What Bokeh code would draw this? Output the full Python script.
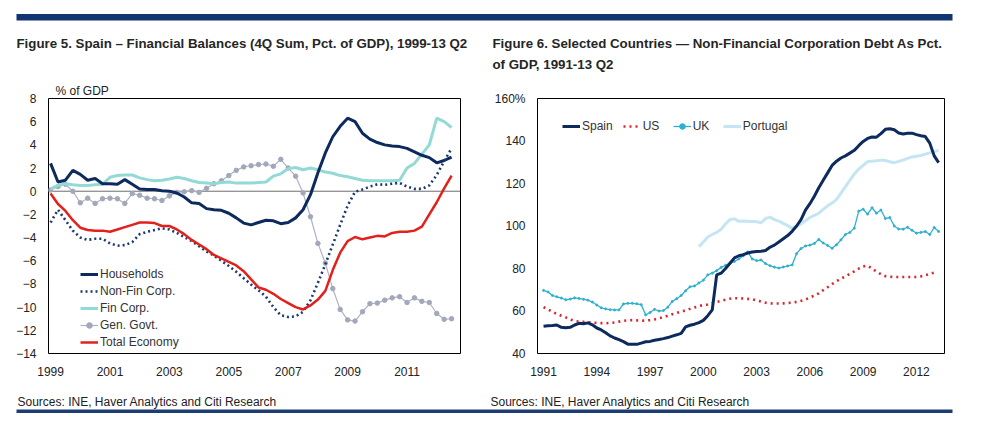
from bokeh.plotting import figure
from bokeh.models import Label, BoxAnnotation, Span, Legend, LegendItem, FixedTicker, Title, Range1d
from bokeh.layouts import row, column
from bokeh.embed import file_html
from bokeh.resources import INLINE

# ---------------- data: Figure 5 (quarterly, 1999 Q1 onwards) ----------------
quarters5 = [1999 + i * 0.25 for i in range(55)]
households = [2.4, 0.8, 0.95, 1.8, 1.45, 0.95, 1.1, 0.65, 0.65, 0.6,
              1.0, 0.6, 0.2, 0.15, 0.15, 0.05, 0.0, -0.15, -0.5, -1.0,
              -1.05, -1.5, -1.6, -1.65, -1.9, -2.3, -2.75, -2.9, -2.7, -2.5,
              -2.55, -2.8, -2.7, -2.3, -1.6, -0.3, 1.6, 3.3, 4.7, 5.6,
              6.3, 6.0, 5.0, 4.5, 4.2, 4.0, 3.9, 3.85, 3.7, 3.4,
              3.1, 2.9, 2.45, 2.65, 2.95]
nonfin_corp = [-2.7, -1.6, -2.5, -3.4, -4.0, -4.2, -4.1, -4.1, -4.5, -4.7,
               -4.65, -4.4, -3.7, -3.5, -3.35, -3.2, -3.3, -3.6, -3.95, -4.3,
               -4.75, -5.2, -5.55, -6.0, -6.45, -6.95, -7.5, -8.05, -8.55, -9.1,
               -10.0, -10.7, -10.85, -10.8, -10.4, -9.4, -7.9, -6.3, -4.6, -2.9,
               -1.25, -0.05, 0.15, 0.4, 0.6, 0.55, 0.65, 0.72, 0.4, 0.2,
               0.2, 0.5, 1.4, 2.6, 3.7]
fin_corp = [0.2, 0.5, 0.65, 0.55, 0.5, 0.5, 0.55, 0.6, 1.2, 1.35,
            1.4, 1.4, 1.15, 1.0, 0.9, 0.95, 1.05, 1.2, 1.1, 0.9,
            0.75, 0.7, 0.65, 0.75, 0.8, 0.7, 0.7, 0.7, 0.75, 0.8,
            1.3, 1.5, 1.95, 2.05, 1.85, 2.0, 1.85, 1.65, 1.55, 1.35,
            1.25, 1.1, 0.95, 0.9, 0.9, 0.9, 0.9, 0.95, 2.0, 2.4,
            3.2, 4.0, 6.3, 6.0, 5.5]
gen_govt = [0.1, 0.4, 0.6, 0.0, -1.0, -0.6, -1.05, -0.65, -0.6, -0.65,
            -1.05, -0.2, -0.35, -0.6, -0.65, -0.8, -0.4, -0.1, -0.05, 0.05,
            -0.1, 0.25, 0.65, 0.9, 1.35, 1.8, 2.1, 2.2, 2.3, 2.35,
            2.15, 2.75, 2.0, 1.3, -0.15, -2.2, -4.5, -6.2, -8.4, -10.2,
            -11.1, -11.2, -10.4, -9.7, -9.65, -9.4, -9.2, -9.1, -9.6, -9.2,
            -9.5, -9.6, -10.55, -11.05, -11.0]
total_economy = [-0.2, -1.1, -1.7, -2.5, -3.15, -3.35, -3.4, -3.4, -3.5, -3.3,
                 -3.1, -2.9, -2.7, -2.7, -2.75, -3.0, -3.0, -3.3, -3.7, -4.2,
                 -4.6, -5.0, -5.5, -5.8, -6.1, -6.4, -6.9, -7.6, -8.3, -8.5,
                 -8.85, -9.3, -9.65, -10.0, -10.2, -9.85, -9.35, -8.6, -6.8, -5.3,
                 -4.3, -3.95, -4.15, -4.0, -3.85, -3.9, -3.6, -3.5, -3.5, -3.4,
                 -3.05, -2.0, -0.95, 0.25, 1.35]
x_ticks5 = [1999, 2001, 2003, 2005, 2007, 2009, 2011]
y_ticks5 = [-14, -12, -10, -8, -6, -4, -2, 0, 2, 4, 6, 8]

# ---------------- data: Figure 6 (quarterly, 1991 Q1 onwards) ----------------
quarters6 = [1991 + j * 0.25 for j in range(90)]
spain = [52.8, 53.1, 53.2, 53.4, 52.3, 52.1, 52.3, 53.4, 54.2, 54.0,
         54.4, 53.5, 52.0, 51.1, 49.8, 48.3, 47.3, 46.5, 45.6, 44.4,
         44.3, 44.3, 44.9, 45.5, 45.7, 46.2, 46.6, 47.0, 47.5, 48.2,
         48.8, 49.5, 52.5, 53.3, 53.8, 54.5, 55.6, 57.8, 60.5, 77.0,
         77.8, 80.0, 82.5, 85.0, 86.0, 86.5, 87.3, 87.8, 88.0, 88.1,
         88.5, 90.0, 91.0, 92.5, 94.0, 95.5, 97.5, 100.0, 103.0, 107.5,
         110.5, 114.0, 118.0, 121.5, 125.0, 128.5, 130.5, 132.0, 133.0, 134.3,
         135.6, 137.8, 139.8, 141.2, 141.9, 141.8, 143.5, 145.5, 145.8, 145.3,
         143.8, 143.3, 143.6, 143.7, 143.0, 142.5, 142.1, 139.0, 133.0, 129.8]
us = [61.8, 60.8, 59.6, 58.6, 57.8, 57.0, 56.0, 55.3, 55.0, 54.9,
      54.7, 54.6, 54.4, 54.3, 54.2, 54.4, 54.6, 55.0, 55.4, 55.6,
      55.7, 55.6, 55.4, 55.5, 55.7, 56.0, 56.6, 57.1, 57.8, 58.5,
      59.1, 59.7, 60.3, 61.0, 61.7, 62.3, 62.8, 63.1, 63.7, 64.3,
      64.8, 65.3, 65.8, 66.0, 66.0, 65.9, 65.7, 65.5, 65.0, 64.4,
      63.9, 63.6, 63.5, 63.5, 63.6, 63.8, 63.9, 64.3, 64.8, 65.4,
      66.3, 67.3, 68.3, 69.8, 71.2, 72.7, 74.0, 75.2, 76.3, 77.5,
      78.7, 79.9, 81.0, 81.3, 80.0, 78.5, 77.3, 76.4, 76.1, 76.0,
      76.0, 76.0, 76.0, 76.0, 76.0, 76.3, 76.8, 77.4, 78.1]
uk = [69.7, 69.0, 67.3, 66.7, 66.1, 65.3, 65.6, 66.2, 65.9, 65.5,
      65.1, 64.2, 62.8, 61.5, 61.0, 60.6, 60.5, 60.5, 63.3, 63.6,
      63.6, 63.4, 63.0, 58.2, 59.3, 60.8, 60.0, 60.2, 61.8, 64.5,
      65.8, 67.3, 69.5, 71.4, 71.8, 73.2, 74.5, 77.0, 77.8, 79.0,
      80.5, 81.5, 82.5, 83.3, 84.5, 86.0, 87.8, 84.5, 83.7, 84.0,
      82.3, 81.3, 80.6, 80.2, 80.7, 81.2, 81.7, 87.0, 89.4, 90.6,
      91.0, 91.8, 93.7, 92.0, 90.8, 89.5, 91.2, 93.5, 96.0, 97.0,
      99.0, 107.0, 107.9, 105.6, 108.6, 106.0, 107.5, 103.5, 104.0, 100.0,
      98.6, 98.5, 99.4, 98.0, 96.6, 97.0, 97.4, 96.0, 99.3, 97.4]
portugal_start = 35  # first quarter with data (1999 Q4)
portugal = [90.3, 92.5, 94.8, 96.0, 97.0, 98.5, 101.0, 103.0, 103.4, 102.2,
            102.3, 102.2, 102.1, 102.0, 101.5, 103.5, 104.2, 103.0, 102.3, 101.2,
            100.2, 99.0, 99.8, 101.0, 102.5, 104.0, 105.0, 106.0, 107.8, 109.5,
            110.8, 112.5, 115.5, 118.5, 121.5, 124.5, 126.8, 128.5, 130.3, 130.5,
            130.7, 131.0, 130.8, 130.2, 129.8, 130.4, 131.0, 131.8, 132.5, 132.8,
            133.2, 133.8, 134.4, 135.0, 135.6]
x_ticks6 = [1991, 1994, 1997, 2000, 2003, 2006, 2009, 2012]
y_ticks6 = [40, 60, 80, 100, 120, 140, 160]

title5 = "Figure 5. Spain \u2013 Financial Balances (4Q Sum, Pct. of GDP), 1999-13 Q2"
title6a = "Figure 6. Selected Countries \u2014 Non-Financial Corporation Debt As Pct."
title6b = "of GDP, 1991-13 Q2"
source_text = "Sources: INE, Haver Analytics and Citi Research"

# ---------------- styling ----------------
FONT = "Liberation Sans"
NAVY = "#0d2a5e"
BAR = "#123572"
W = 992
HEAD_H = 76
FOOT_H = 42
MAIN_H = 428 - HEAD_H - FOOT_H


def style(p, xticks, yticks):
    p.outline_line_color = "#000000"
    p.outline_line_width = 1
    p.outline_line_alpha = 1
    p.xgrid.visible = False
    p.ygrid.visible = False
    p.background_fill_color = "white"
    p.border_fill_color = "white"
    for ax in (p.xaxis[0], p.yaxis[0]):
        ax.axis_line_color = None
        ax.major_tick_line_color = None
        ax.minor_tick_line_color = None
        ax.major_tick_out = 0
        ax.major_tick_in = 0
        ax.major_label_text_font = FONT
        ax.major_label_text_font_size = "12px"
        ax.major_label_text_color = "#222222"
    p.xaxis[0].ticker = FixedTicker(ticks=xticks)
    p.yaxis[0].ticker = FixedTicker(ticks=yticks)
    p.xaxis[0].major_label_standoff = 13
    p.yaxis[0].major_label_standoff = 12


def strip(height, top):
    # a blank strip whose data coordinates are page pixels (x right, y down from page top)
    s = figure(width=W, height=height, x_range=Range1d(0, W), y_range=Range1d(top + height, top),
               x_axis_type=None, y_axis_type=None, output_backend="svg", toolbar_location=None,
               min_border=0, min_border_left=0, min_border_right=0, min_border_top=0, min_border_bottom=0)
    s.outline_line_color = None
    s.xgrid.visible = False
    s.ygrid.visible = False
    s.background_fill_color = "white"
    s.border_fill_color = "white"
    return s


def text(s, x, y, t, size="12px", style_="normal", color="#222222"):
    s.add_layout(Label(x=x, y=y, text=t, text_font=FONT, text_font_size=size,
                       text_font_style=style_, text_color=color,
                       text_baseline="alphabetic", text_align="left"))


def bar(s, x0, x1, y0, y1, color):
    s.add_layout(BoxAnnotation(left=x0, right=x1, top=y0, bottom=y1, fill_color=color,
                               fill_alpha=1, line_color=None))


# ---------------- header & footer strips ----------------
head = strip(HEAD_H, 0)
bar(head, 16, 952, 13.5, 20, BAR)
text(head, 16, 43, title5, size="13.3px", style_="bold", color="#262626")
text(head, 492, 43, title6a, size="13.3px", style_="bold", color="#262626")
text(head, 492, 64, title6b, size="13.3px", style_="bold", color="#262626")

foot = strip(FOOT_H, 428 - FOOT_H)
text(foot, 17, 401, source_text)
text(foot, 490, 401, source_text)
bar(foot, 16, 952, 409, 412.5, "#1d3d72")

# ---------------- Figure 5 ----------------
p1 = figure(width=490, height=MAIN_H, x_range=(1998.93, 2012.8), y_range=(-14, 8),
            output_backend="svg", toolbar_location=None,
            min_border_left=48, min_border_right=30,
            min_border_top=98 - HEAD_H, min_border_bottom=428 - FOOT_H - 353)
style(p1, x_ticks5, y_ticks5)
p1.title = Title(text="% of GDP", align="left", offset=7, standoff=1,
                 text_font=FONT, text_font_size="12px", text_font_style="normal",
                 text_color="#222222")
p1.add_layout(Span(location=0, dimension="width", line_color="#6e6e6e", line_width=1, level="underlay"))

r_gg = p1.line(quarters5, gen_govt, line_color="#aeb2c6", line_width=1.2)
r_ggm = p1.scatter(quarters5, gen_govt, size=4.5, fill_color="#a3a7ba", line_color="#a3a7ba")
r_fc = p1.line(quarters5, fin_corp, line_color="#93dad6", line_width=3)
r_hh = p1.line(quarters5, households, line_color=NAVY, line_width=3)
r_nfc = p1.line(quarters5, nonfin_corp, line_color="#1b3a6b", line_width=2.6,
                line_dash="2 3", line_cap="butt")
r_te = p1.line(quarters5, total_economy, line_color="#e3201b", line_width=2.5)

leg1 = Legend(items=[LegendItem(label="Households", renderers=[r_hh]),
                     LegendItem(label="Non-Fin Corp.", renderers=[r_nfc]),
                     LegendItem(label="Fin Corp.", renderers=[r_fc]),
                     LegendItem(label="Gen. Govt.", renderers=[r_gg, r_ggm]),
                     LegendItem(label="Total Economy", renderers=[r_te])],
              location=(32, 4), orientation="vertical", background_fill_alpha=0,
              border_line_color=None, padding=0, margin=0, spacing=3,
              glyph_width=18, glyph_height=14, label_height=14, label_standoff=2,
              label_text_font=FONT, label_text_font_size="12px", label_text_color="#333333")
p1.add_layout(leg1)

# ---------------- Figure 6 ----------------
p2 = figure(width=502, height=MAIN_H, x_range=(1990.66, 2013.58), y_range=(40, 160),
            output_backend="svg", toolbar_location=None,
            min_border_left=47, min_border_right=48,
            min_border_top=95 - HEAD_H, min_border_bottom=428 - FOOT_H - 354)
style(p2, x_ticks6, y_ticks6)
p2.yaxis[0].major_label_overrides = {160: "160%"}

r_pt = p2.line(quarters6[portugal_start:], portugal, line_color="#c4e6f4", line_width=3)
r_uk = p2.line(quarters6, uk, line_color="#2fb0cf", line_width=1.3)
r_ukm = p2.scatter(quarters6, uk, size=2, fill_color="#2fb0cf", line_color="#2fb0cf")
r_us = p2.line(quarters6[:len(us)], us, line_color="#d9262e", line_width=2.6,
               line_dash="2 4", line_cap="butt")
r_sp = p2.line(quarters6, spain, line_color=NAVY, line_width=3)

leg2 = Legend(items=[LegendItem(label="Spain", renderers=[r_sp]),
                     LegendItem(label="US", renderers=[r_us]),
                     LegendItem(label="UK", renderers=[r_uk, r_ukm]),
                     LegendItem(label="Portugal", renderers=[r_pt])],
              location=(25, 220), orientation="horizontal", background_fill_alpha=0,
              border_line_color=None, padding=0, margin=0, spacing=10,
              glyph_width=18, glyph_height=14, label_height=14, label_standoff=2,
              label_text_font=FONT, label_text_font_size="12px", label_text_color="#333333")
p2.add_layout(leg2)

layout = column(head, row(p1, p2), foot)
open("out.html", "w").write(file_html(layout, INLINE))
